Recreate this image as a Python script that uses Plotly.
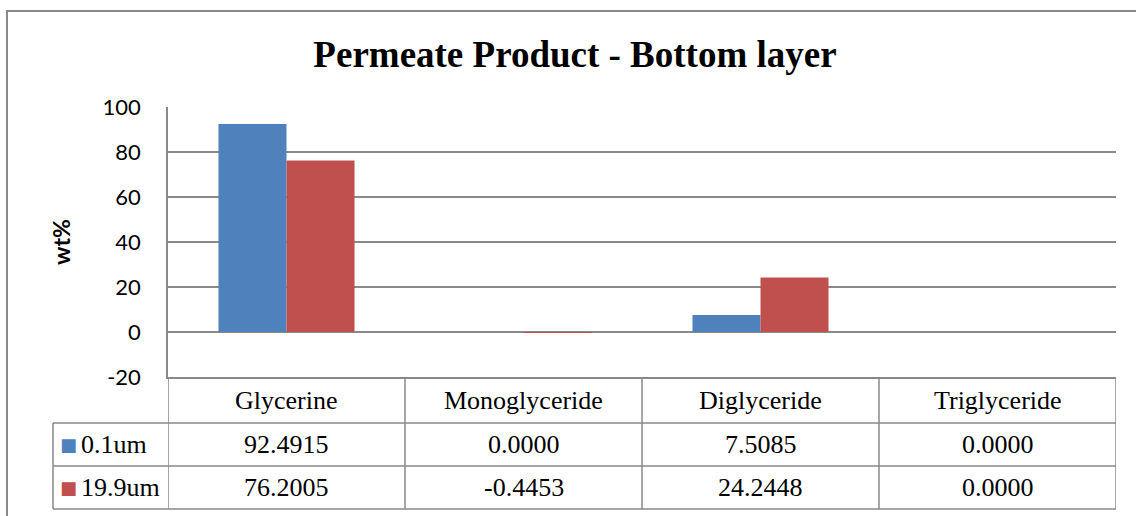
import plotly.graph_objects as go

# ---- data ----
categories = ["Glycerine", "Monoglyceride", "Diglyceride", "Triglyceride"]
series_names = ["0.1um", "19.9um"]
values_01um = [92.4915, 0.0000, 7.5085, 0.0000]
values_199um = [76.2005, -0.4453, 24.2448, 0.0000]
series_values = [values_01um, values_199um]
series_colors = ["#4F81BD", "#C0504D"]
y_tick_vals = [-20, 0, 20, 40, 60, 80, 100]
y_tick_text = ["-20", "0", "20", "40", "60", "80", "100"]
title_text = "Permeate Product - Bottom layer"
y_title = "wt%"

# ---- layout geometry (pixels) ----
W, H = 1136, 516
L, R, T, B = 168, 20, 107, 139
PW = W - L - R
PH = H - T - B


def px_x(x):
    return (x - L) / PW


def px_y(y):
    return (H - B - y) / PH


GRID = "#898989"
GW = 1.5
SERIF = "Liberation Serif"
SANS = "Lato"

fig = go.Figure()
for name, vals, col in zip(series_names, series_values, series_colors):
    fig.add_trace(go.Bar(x=categories, y=vals, name=name, marker_color=col,
                         marker_line_width=0, showlegend=False))

fig.update_layout(
    width=W, height=H,
    margin=dict(l=L, r=R, t=T, b=B, pad=0),
    paper_bgcolor="white", plot_bgcolor="white",
    barmode="group", bargap=0.426, bargroupgap=0,
    title=dict(text=title_text, x=px_x(575), xref="paper", xanchor="center",
               y=(H - 54) / H, yref="container", yanchor="middle",
               font=dict(family=SERIF, size=37, color="black", weight="bold")),
    xaxis=dict(type="category", range=[-0.5, 3.5], showticklabels=False,
               showgrid=False, zeroline=False, showline=True, linecolor=GRID,
               linewidth=GW, ticks=""),
    yaxis=dict(range=[-20, 100], tickvals=y_tick_vals, ticktext=y_tick_text,
               showgrid=True, gridcolor=GRID, gridwidth=GW,
               zeroline=True, zerolinecolor=GRID, zerolinewidth=GW,
               showline=True, linecolor=GRID, linewidth=GW, ticks="",
               ticklabelstandoff=21,
               tickfont=dict(family=SANS, size=22, color="black"),
               title=dict(text=y_title, standoff=26,
                          font=dict(family=SANS, size=23, color="black", weight="bold"))),
)

shapes = []
line = dict(color=GRID, width=GW)
# outer chart border
shapes.append(dict(type="rect", xref="paper", yref="paper",
                   x0=px_x(7), x1=px_x(1150), y0=px_y(530), y1=px_y(11),
                   line=dict(color=GRID, width=2), fillcolor="rgba(0,0,0,0)"))
# table vertical lines at category boundaries
for i in range(len(categories) + 1):
    shapes.append(dict(type="line", xref="x", yref="paper",
                       x0=i - 0.5, x1=i - 0.5, y0=px_y(377), y1=px_y(509), line=line))
# legend column left edge
shapes.append(dict(type="line", xref="paper", yref="paper",
                   x0=px_x(53), x1=px_x(53), y0=px_y(423), y1=px_y(509), line=line))
# table horizontal lines
for yy in (423, 466, 509):
    shapes.append(dict(type="line", xref="paper", yref="paper",
                       x0=px_x(53), x1=1, y0=px_y(yy), y1=px_y(yy), line=line))
fig.update_layout(shapes=shapes)

ann = []
tfont = dict(family=SERIF, size=26, color="black")
for c in categories:
    ann.append(dict(x=c, xref="x", y=px_y(400), yref="paper", text=c,
                    showarrow=False, font=tfont, xanchor="center", yanchor="middle"))
row_y = [444.5, 487.5]
for name, vals, col, ry in zip(series_names, series_values, series_colors, row_y):
    ann.append(dict(x=px_x(68), xref="paper", y=px_y(ry), yref="paper", text="■",
                    showarrow=False, font=dict(family="DejaVu Sans", size=18, color=col),
                    xanchor="center", yanchor="middle"))
    ann.append(dict(x=px_x(79), xref="paper", y=px_y(ry), yref="paper", text=name,
                    showarrow=False, font=tfont, xanchor="left", yanchor="middle"))
    for c, v in zip(categories, vals):
        ann.append(dict(x=c, xref="x", y=px_y(ry), yref="paper", text=f"{v:.4f}",
                        showarrow=False, font=tfont, xanchor="center", yanchor="middle"))
fig.update_layout(annotations=ann)

fig.write_html("out.html", config={"displayModeBar": False},
               post_script="document.body.style.margin='0';")
